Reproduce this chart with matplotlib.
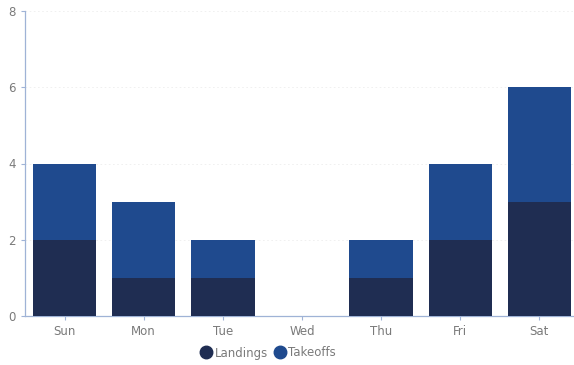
import matplotlib
matplotlib.use("Agg")
import matplotlib.pyplot as plt
from matplotlib.lines import Line2D

days = ["Sun", "Mon", "Tue", "Wed", "Thu", "Fri", "Sat"]
landings = [2, 1, 1, 0, 1, 2, 3]
takeoffs = [2, 2, 1, 0, 1, 2, 3]
yticks = [0, 2, 4, 6, 8]

c_land = "#1f2d52"
c_take = "#1f4a8e"
axis_col = "#9fb3d6"
text_col = "#7a7a7a"

fig = plt.figure(figsize=(5.74, 3.65), dpi=100)
ax = fig.add_axes([25 / 574, 49 / 365, 554 / 574, 305 / 365])

x = list(range(len(days)))
ax.bar(x, landings, width=0.8, color=c_land, zorder=3)
ax.bar(x, takeoffs, width=0.8, bottom=landings, color=c_take, zorder=3)

ax.set_xlim(-0.5, len(days) - 0.5)
ax.set_ylim(0, 8)
ax.set_yticks(yticks)
ax.set_xticks(x)
ax.set_xticklabels(days)
ax.yaxis.grid(True, color="#eeeeee", linewidth=0.6, linestyle=(0, (2, 3)), zorder=0)

for side in ("top", "right"):
    ax.spines[side].set_visible(False)
for side in ("left", "bottom"):
    ax.spines[side].set_color(axis_col)
    ax.spines[side].set_linewidth(0.9)
ax.tick_params(axis="both", colors=axis_col, labelcolor=text_col, labelsize=8.5,
               length=3, width=0.8)

handles = [
    Line2D([], [], marker="o", linestyle="", markersize=9, color=c_land),
    Line2D([], [], marker="o", linestyle="", markersize=9, color=c_take),
]
fig.legend(handles, ["Landings", "Takeoffs"], loc="center", bbox_to_anchor=(268 / 574, 1 - 353 / 365),
           ncol=2, frameon=False, fontsize=8.5, labelcolor=text_col,
           handletextpad=0.2, columnspacing=0.5, handlelength=1.0)

fig.savefig("out.png", dpi=100)
